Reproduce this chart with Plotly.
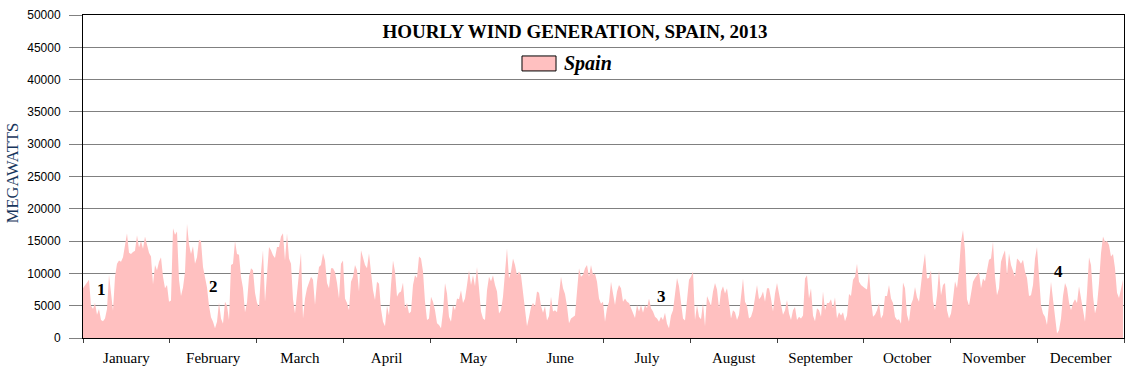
import numpy as np
import plotly.graph_objects as go

seg_jan_feb = [7700, 8200, 8700, 9000, 5000, 4500, 5400, 3600, 4500, 2800, 2600, 3000, 4500, 9800,
               7000, 4200, 9500, 11500, 12000, 11800, 12500, 14400, 16200, 13200, 13000, 13300, 13500,
               15900, 14000, 15000, 13800, 15700, 14300, 13200, 12600, 8300, 11300, 10500, 11800, 12500,
               9500, 7700, 8200, 5600, 5800, 17000, 16000, 16500, 9000, 6500, 7800, 10200, 17700, 14500,
               13000, 14200, 11500, 12500, 15200, 15000, 11000, 9500, 7800, 5000, 3200, 2500, 1500, 2500,
               5500, 3000, 2200, 5600, 5000, 2800]
seg_feb_apr = [11300, 11500, 15000, 13000, 12900, 9500, 7700, 4000, 5500, 9500, 10800, 10500, 7000, 5400,
               4800, 10200, 13600, 5600, 10800, 14100, 13600, 12800, 12400, 14100, 14100, 15700, 16200,
               12000, 16200, 12300, 11500, 6000, 3800, 6900, 10300, 13200, 3000, 6100, 7700, 8700, 9500,
               9000, 5100, 8700, 11000, 11300, 13100, 12000, 8500, 7700, 10800, 10800, 10200, 8500, 6100,
               11500, 12000, 6100, 5400, 4300, 8700, 9500, 11300, 10500, 7200, 13600, 12300, 11300, 10800,
               13100, 10200, 7400, 5900, 8700, 8400]
seg_apr_jun = [4500, 2500, 1800, 5000, 3500, 8200, 12000, 10300, 6400, 7000, 7200, 8600, 4600, 5400, 3800,
               4100, 8200, 9700, 9300, 12600, 12300, 10300, 5600, 2800, 3000, 6400, 5600, 4300, 2300, 2000,
               1500, 4100, 8500, 6900, 3300, 2500, 5100, 4300, 6100, 6000, 7400, 5400, 6100, 8200, 10500,
               8200, 9700, 8000, 11000, 7700, 4100, 3000, 2800, 7400, 9500, 8800, 9700, 8200, 7200, 3800,
               4300, 6400, 10500, 13900, 9200, 10300, 12300, 11300, 9700, 10300, 9700, 6900, 3800, 1800, 3200]
seg_jun_jul = [4800, 5400, 4900, 7200, 7000, 5000, 3900, 4900, 2700, 3400, 6400, 4100, 4300, 4000, 6600,
               9500, 7700, 6800, 4900, 2300, 3000, 3200, 3500, 7200, 10800, 9500, 9800, 10800, 11300, 9500,
               11300, 9800, 10000, 8700, 6100, 5300, 5600, 2500, 4600, 5600, 8700, 6900, 5100, 7200, 8200,
               7700, 5600, 6100, 5600, 5400, 4600, 4100, 3100, 5100, 4100, 5100, 3900, 5100, 4600, 6100,
               4600, 4100, 3300, 3000, 2500, 3300, 2800, 3900, 2200, 1500, 3500, 4300, 6900, 9300, 8000]
seg_jul_sep = [5300, 3000, 2700, 6400, 9000, 9500, 10300, 2800, 5100, 3300, 2900, 5400, 1800, 6500, 5600,
               5000, 7200, 8500, 7500, 4600, 7200, 8000, 6900, 7700, 5400, 3000, 4300, 4000, 2800, 3600,
               6400, 9200, 5600, 5000, 3000, 3300, 4300, 6100, 8200, 6000, 6400, 7200, 5600, 7700, 7700,
               6100, 4100, 6900, 8500, 6900, 5400, 3600, 4300, 5900, 3800, 2800, 4300, 4800, 2800, 3300,
               3000, 3500, 9200, 9700, 6100, 7700, 3500, 2600, 4600, 4300, 3300, 7200, 4300, 5400, 5400]
seg_sep_nov = [6000, 4600, 6300, 3000, 4000, 3500, 4000, 2600, 3500, 6800, 6500, 9000, 9500, 11500, 8700,
               8200, 7900, 7700, 7500, 10200, 6000, 3300, 3600, 4300, 5400, 3000, 3600, 6500, 6500, 8200,
               6100, 5400, 3300, 2800, 2900, 2200, 8600, 7700, 3600, 2500, 5200, 6000, 7900, 6300, 5600,
               8700, 11000, 13100, 9200, 9300, 10500, 5700, 4300, 6600, 10500, 6600, 8200, 8500, 4300,
               3000, 3800, 6000, 8800, 7700, 10500, 14900, 16700, 13600, 6000, 5000, 7000, 8700, 9300,
               9700, 10200]
seg_nov_dec = [7700, 9200, 8800, 10500, 12100, 12300, 14900, 9500, 6600, 7700, 11800, 12800, 13600, 9800,
               13100, 11300, 10500, 9500, 12300, 12000, 11500, 12100, 10300, 9300, 6500, 6600, 8200, 12300,
               14100, 9500, 5100, 3800, 3300, 2000, 5800, 8700, 6000, 3000, 700, 1200, 3000, 6500, 8500,
               7700, 5500, 4300, 5400, 6000, 5400, 8000, 6100, 4600, 2500, 7000, 12500, 11300, 6500, 3800,
               5100, 8500, 13100, 15700, 14900, 15000, 14400, 12600, 13000, 10800, 7000, 6200, 7600, 9000]

months = ["January", "February", "March", "April", "May", "June", "July",
          "August", "September", "October", "November", "December"]
event_labels = ["1", "2", "3", "4"]
event_hours = [156, 1095, 4865, 8210]
event_mw = [7520, 8000, 6350, 10300]

HOURS_PER_YEAR = 8760
HOURS_PER_LABEL = HOURS_PER_YEAR / 12

values = np.array(seg_jan_feb + seg_feb_apr + seg_apr_jun + seg_jun_jul +
                  seg_jul_sep + seg_sep_nov + seg_nov_dec, dtype=float)
step = 2 * HOURS_PER_YEAR / 1041.0
hours = np.arange(len(values)) * step

serif = "Liberation Serif, Times New Roman, serif"
sans = "Liberation Sans, Arial, sans-serif"
pink = "#FFC0C0"

W, H = 1137, 372

fig = go.Figure()
fig.add_trace(go.Scatter(
    x=hours, y=values, mode="lines", name="Spain",
    line=dict(width=0, color=pink), fill="tozeroy", fillcolor=pink,
    showlegend=False, hoverinfo="skip"))

for lab, hx, hy in zip(event_labels, event_hours, event_mw):
    fig.add_annotation(x=hx, y=hy, xref="x", yref="y", text="<b>%s</b>" % lab,
                       showarrow=False, font=dict(family=serif, size=17, color="#000"))

# legend drawn by hand (box + italic label)
fig.add_shape(type="rect", xref="paper", yref="paper", x0=0.4217, x1=0.4544, y0=0.8268, y1=0.8732,
              fillcolor=pink, line=dict(color="#000", width=1))
fig.add_annotation(xref="paper", yref="paper", x=0.4601, y=0.850, xanchor="left", yanchor="middle",
                   text="<b><i>Spain</i></b>", showarrow=False,
                   font=dict(family=serif, size=20, color="#000"))

# y-axis title
fig.add_annotation(xref="paper", yref="paper", x=-0.0682, y=0.51, xanchor="center", yanchor="middle",
                   text="MEGAWATTS", textangle=-90, showarrow=False,
                   font=dict(family=serif, size=16.5, color="#17365D"))

fig.update_layout(
    width=W, height=H,
    margin=dict(l=83, r=13, t=15, b=34, autoexpand=False),
    paper_bgcolor="white", plot_bgcolor="white",
    title=dict(text="<b>HOURLY WIND GENERATION, SPAIN, 2013</b>", x=575 / W, xanchor="center",
               y=1 - 31 / H, yanchor="middle", yref="container",
               font=dict(family=serif, size=19, color="#000")),
    xaxis=dict(
        range=[0, HOURS_PER_YEAR], showgrid=False, zeroline=False, automargin=False,
        showline=True, linecolor="#000", linewidth=1, mirror=True,
        tickmode="array",
        tickvals=[HOURS_PER_LABEL * (k + 0.5) for k in range(12)], ticktext=months,
        ticks="outside", ticklen=6, tickcolor="rgba(0,0,0,0)",
        tickfont=dict(family=serif, size=15, color="#000"),
        minor=dict(tickmode="array", tickvals=[HOURS_PER_LABEL * k for k in range(13)],
                   ticks="outside", ticklen=4, tickcolor="#404040", showgrid=False),
    ),
    yaxis=dict(
        range=[0, 50000], dtick=5000, tick0=0, tickformat="d", automargin=False,
        showgrid=True, gridcolor="#808080", gridwidth=1, zeroline=False,
        showline=True, linecolor="#000", linewidth=1, mirror=True,
        ticks="outside", ticklen=13, tickcolor="#808080", ticklabelstandoff=6,
        tickfont=dict(family=sans, size=12, color="#000"),
    ),
)

# remove the browser's default 8px body margin so the figure sits flush in the window
fig.write_html("out.html", config={"displayModeBar": False, "staticPlot": True},
               post_script="document.body.style.margin='0';document.body.style.overflow='hidden';")
